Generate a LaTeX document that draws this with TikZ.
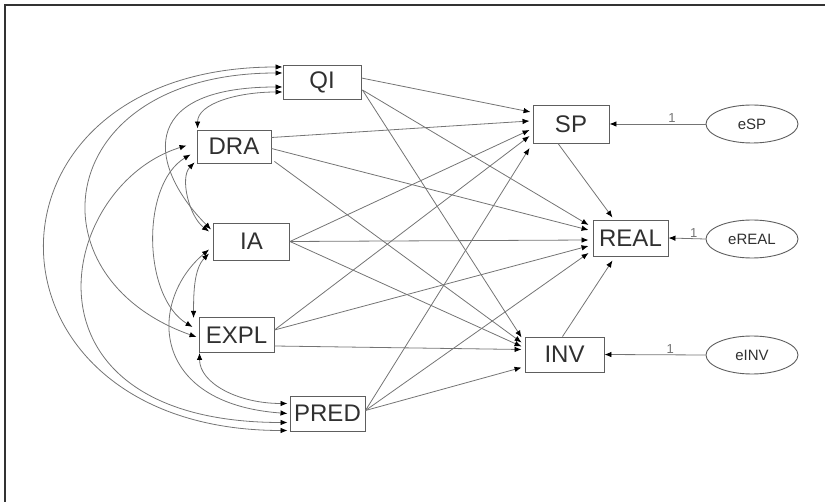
\documentclass[tikz,border=0pt]{standalone}
\usepackage{fontspec}
\setmainfont{Liberation Sans}
\usetikzlibrary{arrows.meta,shapes.geometric,calc}
\definecolor{ln}{HTML}{747474}
\definecolor{boxc}{HTML}{5E5E5E}
\definecolor{txt}{HTML}{303030}
\definecolor{framec}{HTML}{333333}
\begin{document}
\begin{tikzpicture}[x=1pt,y=-1pt,
  var/.style={draw=boxc, line width=0.9pt, rectangle, inner sep=0pt, text=txt, font=\fontsize{24}{26}\selectfont},
  err/.style={draw=boxc, line width=0.9pt, ellipse, minimum width=92pt, minimum height=38pt, inner sep=0pt, text=txt, font=\fontsize{15}{17}\selectfont},
  dirarrow/.style={draw=ln, line width=0.8pt, -{Latex[length=7pt,width=5.5pt,color=black]}},
  cov/.style={draw=ln, line width=0.8pt, {Latex[length=7pt,width=5.5pt,color=black]}-{Latex[length=7pt,width=5.5pt,color=black]}},
  one/.style={font=\fontsize{13}{14}\selectfont, text=ln, inner sep=1pt}
]
\useasboundingbox (0,0) rectangle (825,502);
% frame
\coordinate (f1) at (5,502);
\coordinate (f2) at (5,5);
\coordinate (f3) at (825,5);
\draw[framec, line width=2pt] (f1) -- (f2) -- (f3);

% exogenous
\node[var, minimum width=78pt, minimum height=34pt] (QI) at (322,82) {QI};
\node[var, minimum width=74pt, minimum height=33pt] (DRA) at (234,146.5) {DRA};
\node[var, minimum width=76pt, minimum height=37pt] (IA) at (251.5,241.5) {IA};
\node[var, minimum width=75pt, minimum height=35pt] (EXPL) at (236.5,335) {EXPL};
\node[var, minimum width=75pt, minimum height=35pt] (PRED) at (327.5,413.5) {PRED};
% endogenous
\node[var, minimum width=76pt, minimum height=38pt] (SP) at (571,124) {SP};
\node[var, minimum width=75pt, minimum height=36pt] (REAL) at (630.5,238) {REAL};
\node[var, minimum width=79pt, minimum height=35pt] (INV) at (564.5,354.5) {INV};
% errors
\node[err] (eSP) at (752,124) {eSP};
\node[err] (eREAL) at (752,239) {eREAL};
\node[err] (eINV) at (752,355) {eINV};

% covariances
\draw[cov] ($(QI.west)+(0,10)$) .. controls +(-45,0) and +(0,-25) .. ($(DRA.north west)+(1,-1)$);
\draw[cov] ($(QI.west)+(0,5)$) .. controls +(-150,0) and +(-60,-60) .. ($(IA.west)+(-2,-12)$);
\draw[cov] ($(QI.west)+(0,-9)$) .. controls +(-230,0) and +(-170,-60) .. ($(EXPL.west)+(-2,2)$);
\draw[cov] ($(QI.west)+(0,-15)$) .. controls +(-320,0) and +(-320,0) .. ($(PRED.west)+(-2,17)$);
\draw[cov] ($(DRA.south west)+(-2,-1)$) .. controls +(-15,15) and +(-20,-15) .. ($(IA.west)+(-4,-10)$);
\draw[cov] ($(DRA.west)+(-6,8)$) .. controls +(-50,30) and +(-50,-30) .. ($(EXPL.west)+(-6,-8)$);
\draw[cov] ($(DRA.west)+(-10,-1)$) .. controls +(-130,40) and +(-280,0) .. ($(PRED.west)+(-2,9)$);
\draw[cov] ($(IA.west)+(-4,12)$) .. controls +(-15,15) and +(0,-25) .. ($(EXPL.west)+(-5,-17)$);
\draw[cov] ($(IA.west)+(-4,8)$) .. controls +(-60,50) and +(-140,-10) .. ($(PRED.west)+(-2,0)$);
\draw[cov] ($(EXPL.south west)+(1,0)$) .. controls +(0,30) and +(-50,0) .. ($(PRED.west)+(-2,-10)$);

% regressions
\draw[dirarrow] ($(QI.east)+(0,-4)$) -- ($(SP.west)+(-2,-12)$);
\draw[dirarrow] ($(QI.east)+(1,8)$) -- ($(REAL.west)+(-4,-13)$);
\draw[dirarrow] ($(QI.east)+(1,8)$) -- ($(INV.west)+(-3,-17)$);
\draw[dirarrow] ($(DRA.east)+(0,-9)$) -- ($(SP.west)+(-3,-3)$);
\draw[dirarrow] ($(DRA.east)+(0,2)$) -- ($(REAL.west)+(-4,-8)$);
\draw[dirarrow] ($(DRA.south east)+(3,-2)$) -- ($(INV.west)+(-3,-12)$);
\draw[dirarrow] (IA.east) -- ($(SP.west)+(-3,6)$);
\draw[dirarrow] (IA.east) -- ($(REAL.west)+(-4,2)$);
\draw[dirarrow] (IA.east) -- ($(INV.west)+(-3,-8)$);
\draw[dirarrow] ($(EXPL.east)+(0,-5)$) -- ($(SP.west)+(-3,12)$);
\draw[dirarrow] ($(EXPL.east)+(0,-5)$) -- ($(REAL.west)+(-4,8)$);
\draw[dirarrow] ($(EXPL.east)+(0,11)$) -- ($(INV.west)+(-3,-5)$);
\draw[dirarrow] ($(PRED.east)+(0,-3)$) -- ($(SP.west)+(-3,24)$);
\draw[dirarrow] ($(PRED.east)+(0,-3)$) -- ($(REAL.west)+(-4,15)$);
\draw[dirarrow] ($(PRED.east)+(0,-3)$) -- ($(INV.west)+(-3,13)$);
\draw[dirarrow] ($(SP.south)+(-13,0)$) -- ($(REAL.north)+(-18,-2)$);
\draw[dirarrow] ($(INV.north)+(-2,0)$) -- ($(REAL.south)+(-18,4)$);

% error terms
\draw[dirarrow] (eSP.west) -- node[one, above, pos=0.35] {1} (SP.east);
\draw[dirarrow] (eREAL.west) -- node[one, above, pos=0.32] {1} (REAL.east);
\draw[dirarrow] (eINV.west) -- node[one, above, pos=0.35] {1} (INV.east);
\end{tikzpicture}
\end{document}
